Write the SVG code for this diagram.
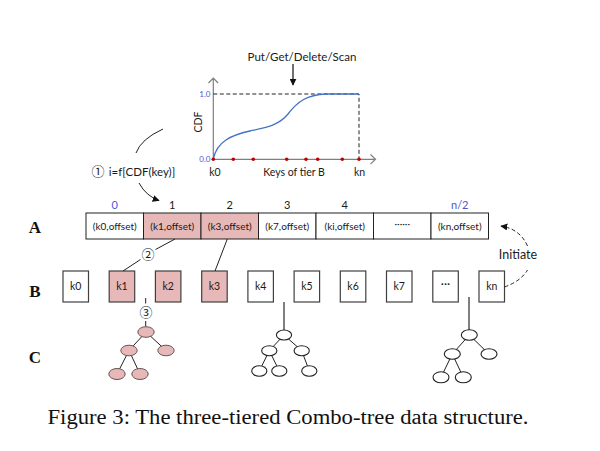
<svg xmlns="http://www.w3.org/2000/svg" width="600" height="451" viewBox="0 0 600 451">
<style>
text{font-family:Lato,"Liberation Sans",sans-serif;fill:#1a1a1a}
.cell rect{stroke:#222;stroke-width:1;fill:#fff}
.cell text{font-size:10px;text-anchor:middle}
.pink rect{fill:#e6b8b7}
.bbox rect{stroke:#404040;stroke-width:1.2;fill:#fff}
.bbox text{font-size:10.5px;text-anchor:middle}
.bbox.pink rect{fill:#e6b8b7}
.idx{font-size:11px;text-anchor:middle}
.blue{fill:#4a56d8}
.tier{font-family:"Liberation Serif",serif;font-weight:bold;font-size:17px;text-anchor:middle;fill:#111}
.tree ellipse{fill:#fff;stroke:#222;stroke-width:1.1}
.tree line{stroke:#222;stroke-width:1}
.ptree ellipse{fill:#e6b8b7;stroke:#6b5454;stroke-width:1}
.conn line,.conn path{stroke:#222;stroke-width:1;fill:none}
.axis{stroke:#7f7f7f;stroke-width:1.2;fill:none}
.dash{stroke:#222;stroke-width:1;stroke-dasharray:4 2.5;fill:none}
.circ{font-family:"Noto Sans CJK SC","DejaVu Sans",sans-serif;font-size:13px;text-anchor:middle}
</style>
<defs>
<marker id="ah" viewBox="0 0 10 10" refX="9" refY="5" markerWidth="7" markerHeight="7" orient="auto" markerUnits="userSpaceOnUse">
<path d="M0,0 L10,5 L0,10 Z" fill="#111"/>
</marker>
</defs>

<!-- CDF chart -->
<g id="cdf-chart">
<text x="302" y="61" style="font-size:11.5px;text-anchor:middle">Put/Get/Delete/Scan</text>
<line x1="293" y1="64" x2="293" y2="85" stroke="#111" stroke-width="1.2" marker-end="url(#ah)"/>
<path class="axis" d="M213.3,159.3 V78 M208.5,83 L213.3,78 L218.1,83"/>
<path class="axis" d="M213.3,159.3 H375.5 M370.5,154.5 L375.5,159.3 L370.5,164.1"/>
<path class="dash" d="M213.3,94 H359 V159.3"/>
<path d="M213.3,159 C217,141 232,135 250,131 C268,127 279,125 288,114 C298,101 307,95 326,94 L359,94" fill="none" stroke="#4472c4" stroke-width="1.3"/>
<g fill="#c00000">
<circle cx="213.3" cy="159.3" r="1.8"/><circle cx="233.3" cy="159.3" r="1.8"/><circle cx="253.3" cy="159.3" r="1.8"/><circle cx="286.7" cy="159.3" r="1.8"/><circle cx="306" cy="159.3" r="1.8"/><circle cx="317.7" cy="159.3" r="1.8"/><circle cx="342.3" cy="159.3" r="1.8"/><circle cx="359" cy="159.3" r="1.8"/>
</g>
<text x="210.5" y="97" class="blue" style="font-size:8px;text-anchor:end">1.0</text>
<text x="210.5" y="162" class="blue" style="font-size:8px;text-anchor:end">0.0</text>
<text transform="translate(201.5,122) rotate(-90)" style="font-size:10.5px;text-anchor:middle">CDF</text>
<text x="215" y="175.5" style="font-size:10.5px;text-anchor:middle">k0</text>
<text x="294" y="175.5" style="font-size:10.5px;text-anchor:middle">Keys of tier B</text>
<text x="359.5" y="175.5" style="font-size:10.5px;text-anchor:middle">kn</text>
</g>

<!-- step labels -->
<g id="step1">
<text x="98" y="176" class="circ">①</text>
<text x="142" y="175.5" style="font-size:11.5px;text-anchor:middle">i=f[CDF(key)]</text>
</g>

<!-- tier labels -->
<text class="tier" x="35" y="233">A</text>
<text class="tier" x="35" y="297">B</text>
<text class="tier" x="35" y="363">C</text>

<!-- index labels -->
<g id="indices">
<text class="idx blue" x="114.75" y="209">0</text>
<text class="idx" x="172.25" y="209">1</text>
<text class="idx" x="229.75" y="209">2</text>
<text class="idx" x="287.25" y="209">3</text>
<text class="idx" x="344.75" y="209">4</text>
<text class="idx blue" x="459.75" y="209">n/2</text>
</g>

<!-- tier A -->
<g id="tierA">
<g id="a0" class="cell"><rect x="86" y="213" width="57.5" height="26"/><text x="114.75" y="229.5">(k0,offset)</text></g>
<g id="a1" class="cell pink"><rect x="143.5" y="213" width="57.5" height="26"/><text x="172.25" y="229.5">(k1,offset)</text></g>
<g id="a2" class="cell pink"><rect x="201" y="213" width="57.5" height="26"/><text x="229.75" y="229.5">(k3,offset)</text></g>
<g id="a3" class="cell"><rect x="258.5" y="213" width="57.5" height="26"/><text x="287.25" y="229.5">(k7,offset)</text></g>
<g id="a4" class="cell"><rect x="316" y="213" width="57.5" height="26"/><text x="344.75" y="229.5">(ki,offset)</text></g>
<g id="a5" class="cell"><rect x="373.5" y="213" width="57.5" height="26"/><text x="402.25" y="227">······</text></g>
<g id="a6" class="cell"><rect x="431" y="213" width="57.5" height="26"/><text x="459.75" y="229.5">(kn,offset)</text></g>
</g>

<!-- tier B -->
<g id="tierB">
<g id="b0" class="bbox"><rect x="63" y="271" width="25.5" height="31"/><text x="75.75" y="290">k0</text></g>
<g id="b1" class="bbox pink"><rect x="109.2" y="271" width="25.5" height="31"/><text x="121.95" y="290">k1</text></g>
<g id="b2" class="bbox pink"><rect x="155.4" y="271" width="25.5" height="31"/><text x="168.15" y="290">k2</text></g>
<g id="b3" class="bbox pink"><rect x="201.7" y="271" width="25.5" height="31"/><text x="214.45" y="290">k3</text></g>
<g id="b4" class="bbox"><rect x="247.9" y="271" width="25.5" height="31"/><text x="260.65" y="290">k4</text></g>
<g id="b5" class="bbox"><rect x="294.1" y="271" width="25.5" height="31"/><text x="306.85" y="290">k5</text></g>
<g id="b6" class="bbox"><rect x="340.3" y="271" width="25.5" height="31"/><text x="353.05" y="290">k6</text></g>
<g id="b7" class="bbox"><rect x="386.5" y="271" width="25.5" height="31"/><text x="399.25" y="290">k7</text></g>
<g id="b8" class="bbox"><rect x="432.8" y="271" width="25.5" height="31"/><text x="445.55" y="288" style="font-size:12px">···</text></g>
<g id="b9" class="bbox"><rect x="479" y="271" width="25.5" height="31"/><text x="491.75" y="290">kn</text></g>
</g>

<!-- connectors -->
<g id="connectors" class="conn">
<path d="M163,129 Q141,139 136,153"/>
<path d="M139,183 Q146,196 159,200.5" marker-end="url(#ah)"/>
<line x1="175" y1="239" x2="155.5" y2="249.5"/>
<line x1="140.5" y1="259.5" x2="123" y2="271"/>
<line x1="227.3" y1="239" x2="215" y2="271"/>
<line x1="145.7" y1="298" x2="145.7" y2="303.5"/>
<line x1="145.7" y1="321" x2="145.7" y2="326.5"/>
<line x1="284" y1="302" x2="284" y2="330" style="stroke:#555;stroke-width:1.5"/>
<line x1="469" y1="297" x2="469" y2="330" style="stroke:#555;stroke-width:1.5"/>
<path class="dash" d="M504.5,287 Q521,281 527.5,270"/>
<path class="dash" d="M527.5,246 Q520,229 501,226" marker-end="url(#ah)"/>
</g>
<text x="148" y="259" class="circ">②</text>
<text x="146" y="317" class="circ">③</text>
<text x="518" y="258.5" style="font-size:12.5px;text-anchor:middle">Initiate</text>

<!-- tier C trees -->
<g id="tree1" class="tree ptree">
<line x1="146" y1="332" x2="129" y2="350.5"/><line x1="146" y1="332" x2="166" y2="350.5"/>
<line x1="129" y1="350.5" x2="117" y2="374"/><line x1="129" y1="350.5" x2="140" y2="374"/>
<ellipse cx="146" cy="332" rx="8.2" ry="5.3"/>
<ellipse cx="129" cy="350.5" rx="8.2" ry="5.3"/>
<ellipse cx="166" cy="350.5" rx="8.2" ry="5.3"/>
<ellipse cx="117" cy="374" rx="8.2" ry="5.5"/>
<ellipse cx="140" cy="374" rx="8.2" ry="5.5"/>
</g>
<g id="tree2" class="tree">
<line x1="284" y1="335" x2="269.3" y2="350.7"/><line x1="284" y1="335" x2="301.7" y2="350.7"/>
<line x1="269.3" y1="350.7" x2="259.3" y2="371"/><line x1="269.3" y1="350.7" x2="279.3" y2="371"/>
<line x1="301.7" y1="350.7" x2="309.3" y2="371"/>
<ellipse cx="284" cy="335" rx="7.6" ry="5"/>
<ellipse cx="269.3" cy="350.7" rx="7.6" ry="5"/>
<ellipse cx="301.7" cy="350.7" rx="7.6" ry="5"/>
<ellipse cx="259.3" cy="371" rx="7.6" ry="5.2"/>
<ellipse cx="279.3" cy="371" rx="7.6" ry="5.2"/>
<ellipse cx="309.3" cy="371" rx="7.6" ry="5.2"/>
</g>
<g id="tree3" class="tree">
<line x1="469.3" y1="335" x2="452.3" y2="354"/><line x1="469.3" y1="335" x2="489" y2="354"/>
<line x1="452.3" y1="354" x2="441" y2="377.3"/><line x1="452.3" y1="354" x2="463.3" y2="377.3"/>
<ellipse cx="469.3" cy="335" rx="8" ry="5.3"/>
<ellipse cx="452.3" cy="354" rx="8" ry="5.3"/>
<ellipse cx="489" cy="354" rx="8" ry="5.3"/>
<ellipse cx="441" cy="377.3" rx="8" ry="5.5"/>
<ellipse cx="463.3" cy="377.3" rx="8" ry="5.5"/>
</g>

<text x="288" y="424" textLength="481" lengthAdjust="spacingAndGlyphs" style="font-family:'Liberation Serif',serif;font-size:20.5px;fill:#111;text-anchor:middle">Figure 3: The three-tiered Combo-tree data structure.</text>
</svg>
